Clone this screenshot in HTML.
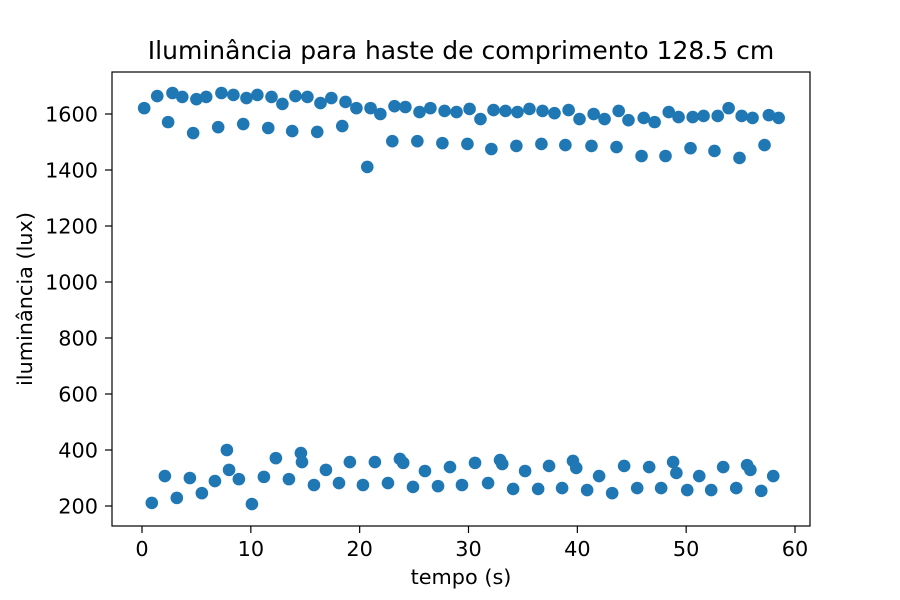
<!DOCTYPE html>
<html><head><meta charset="utf-8"><style>
body{margin:0;background:#fff}
svg{display:block;font-family:"DejaVu Sans","Liberation Sans",sans-serif}
</style></head><body>
<svg id="chart" width="900" height="600">
<rect width="900" height="600" fill="#fff"/>
<text x="461" y="59" font-size="25" text-anchor="middle">Iluminância para haste de comprimento 128.5 cm</text>
<g id="points"></g>
<g id="axes"></g>
<text x="461" y="584" font-size="20.8" text-anchor="middle">tempo (s)</text>
<text transform="translate(32,299) rotate(-90)" font-size="20.8" text-anchor="middle">iluminância (lux)</text>
</svg>
<script>
const times = [0.2,1.4,2.4,2.8,3.7,4.7,5.0,5.9,7.0,7.3,8.4,9.3,9.6,10.6,11.6,11.9,12.9,13.8,14.1,15.2,16.1,16.4,17.4,18.4,18.7,19.7,20.7,21.0,21.9,23.0,23.2,24.2,25.3,25.5,26.5,27.6,27.8,28.9,29.9,30.1,31.1,32.1,32.3,33.4,34.4,34.5,35.6,36.7,36.8,37.9,38.9,39.2,40.2,41.3,41.5,42.5,43.6,43.8,44.7,45.9,46.1,47.1,48.1,48.4,49.3,50.4,50.6,51.6,52.6,52.9,53.9,54.9,55.1,56.1,57.2,57.6,58.5,
0.9,2.1,3.2,4.4,5.5,6.7,7.8,8.0,8.9,10.1,11.2,12.3,13.5,14.6,14.7,15.8,16.9,18.1,19.1,20.3,21.4,22.6,23.7,24.0,24.9,26.0,27.2,28.3,29.4,30.6,31.8,32.9,33.1,34.1,35.2,36.4,37.4,38.6,39.6,39.9,40.9,42.0,43.2,44.3,45.5,46.6,47.7,48.8,49.1,50.1,51.2,52.3,53.4,54.6,55.6,55.9,56.9,58.0];
const lux = [1621,1664,1571,1675,1661,1532,1653,1661,1553,1675,1668,1564,1657,1668,1550,1661,1636,1539,1664,1661,1536,1639,1657,1557,1643,1621,1411,1621,1600,1503,1628,1625,1503,1607,1621,1496,1611,1607,1493,1618,1582,1475,1614,1611,1486,1607,1618,1493,1611,1603,1489,1614,1582,1486,1600,1582,1482,1611,1578,1450,1586,1571,1450,1607,1589,1478,1589,1593,1468,1593,1621,1443,1593,1586,1489,1596,1586,
211,307,229,300,246,289,400,329,296,207,304,371,296,389,357,275,329,282,357,275,357,282,368,354,268,325,271,339,275,354,282,364,350,261,325,261,343,264,361,336,257,307,246,343,264,339,264,357,318,257,307,257,339,264,346,329,254,307];
const xTicks = [0,10,20,30,40,50,60];
const yTicks = [200,400,600,800,1000,1200,1400,1600];

const L=112,R=810,T=72,B=526;
const xs = v => 142 + v*(795-142)/60;
const ys = v => 506 - (v-200)*(506-114)/1400;
const NS="http://www.w3.org/2000/svg";
const pg=document.getElementById('points'), ag=document.getElementById('axes');
function mk(tag, attrs, parent){const e=document.createElementNS(NS,tag);for(const k in attrs)e.setAttribute(k,attrs[k]);parent.appendChild(e);return e;}
times.forEach((t,i)=>{
  const c=mk('circle',{cx:xs(t),cy:ys(lux[i]),r:6.3,fill:'#1f77b4'},pg);
  
  
});
const fr=mk('rect',{x:L,y:T,width:R-L,height:B-T,fill:'none',stroke:'#000','stroke-width':1.2},ag);


xTicks.forEach(v=>{
  const x=xs(v);
  const l=mk('line',{x1:x,x2:x,y1:B,y2:B+7,stroke:'#000','stroke-width':1.2},ag);
  
  
  const t=mk('text',{x:x,y:B+30,'font-size':20.8,'text-anchor':'middle'},ag);
  t.textContent=v;
  
  
});
yTicks.forEach(v=>{
  const y=ys(v);
  const l=mk('line',{x1:L-7,x2:L,y1:y,y2:y,stroke:'#000','stroke-width':1.2},ag);
  
  
  const t=mk('text',{x:L-14,y:y+7.5,'font-size':20.8,'text-anchor':'end'},ag);
  t.textContent=v;
  
  
});
</script>
</body></html>
